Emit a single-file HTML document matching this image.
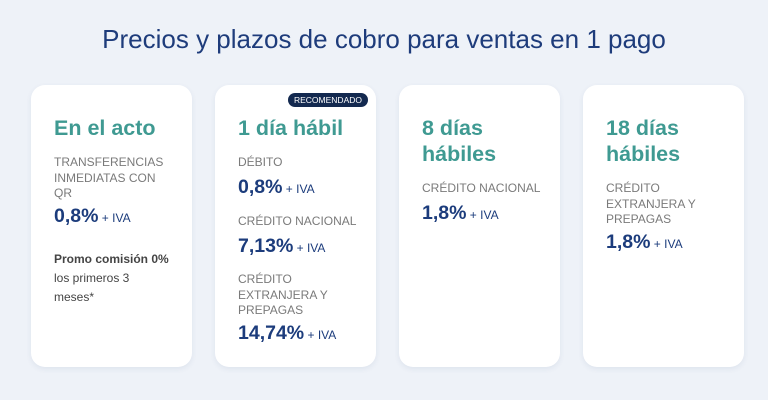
<!DOCTYPE html>
<html><head><meta charset="utf-8"><style>
body{margin:0;width:768px;height:400px;background:#eef2f8;font-family:"Liberation Sans",sans-serif;position:relative;overflow:hidden}
.t{position:absolute;left:0;width:768px;top:24px;text-align:center;font-size:26px;color:#1e3c7b}
.card{position:absolute;top:85px;width:161px;height:282px;background:#fff;border-radius:14px;box-shadow:0 2px 6px rgba(40,60,110,.08)}
.a{position:absolute;left:23px;white-space:nowrap}
.h{font-size:21.5px;font-weight:bold;color:#3f9a92;line-height:26px}
.l{font-size:12px;color:#7a7a7a;line-height:15.5px}
.v{font-size:19.5px;font-weight:bold;color:#1c3c7c}
.v span{font-size:12px;font-weight:normal}
.p{font-size:12px;color:#444;line-height:19px}
.badge{position:absolute;right:8px;top:8px;background:#13294f;color:#fff;font-size:8.5px;padding:2px 6px;border-radius:8px}
</style></head><body>
<div class="t">Precios y plazos de cobro para ventas en 1 pago</div>
<div class="card" style="left:31px">
<div class="a h" style="top:30px">En el acto</div>
<div class="a l" style="top:70px">TRANSFERENCIAS<br>INMEDIATAS CON<br>QR</div>
<div class="a v" style="top:120px">0,8%<span> + IVA</span></div>
<div class="a p" style="top:165px"><b>Promo comisión 0%</b><br>los primeros 3<br>meses*</div>
</div>
<div class="card" style="left:215px">
<div class="badge">RECOMENDADO</div>
<div class="a h" style="top:30px">1 día hábil</div>
<div class="a l" style="top:70px">DÉBITO</div>
<div class="a v" style="top:91px">0,8%<span> + IVA</span></div>
<div class="a l" style="top:129px">CRÉDITO NACIONAL</div>
<div class="a v" style="top:150px">7,13%<span> + IVA</span></div>
<div class="a l" style="top:187px">CRÉDITO<br>EXTRANJERA Y<br>PREPAGAS</div>
<div class="a v" style="top:237px">14,74%<span> + IVA</span></div>
</div>
<div class="card" style="left:399px">
<div class="a h" style="top:30px">8 días<br>hábiles</div>
<div class="a l" style="top:96px">CRÉDITO NACIONAL</div>
<div class="a v" style="top:117px">1,8%<span> + IVA</span></div>
</div>
<div class="card" style="left:583px">
<div class="a h" style="top:30px">18 días<br>hábiles</div>
<div class="a l" style="top:96px">CRÉDITO<br>EXTRANJERA Y<br>PREPAGAS</div>
<div class="a v" style="top:146px">1,8%<span> + IVA</span></div>
</div>
</body></html>
